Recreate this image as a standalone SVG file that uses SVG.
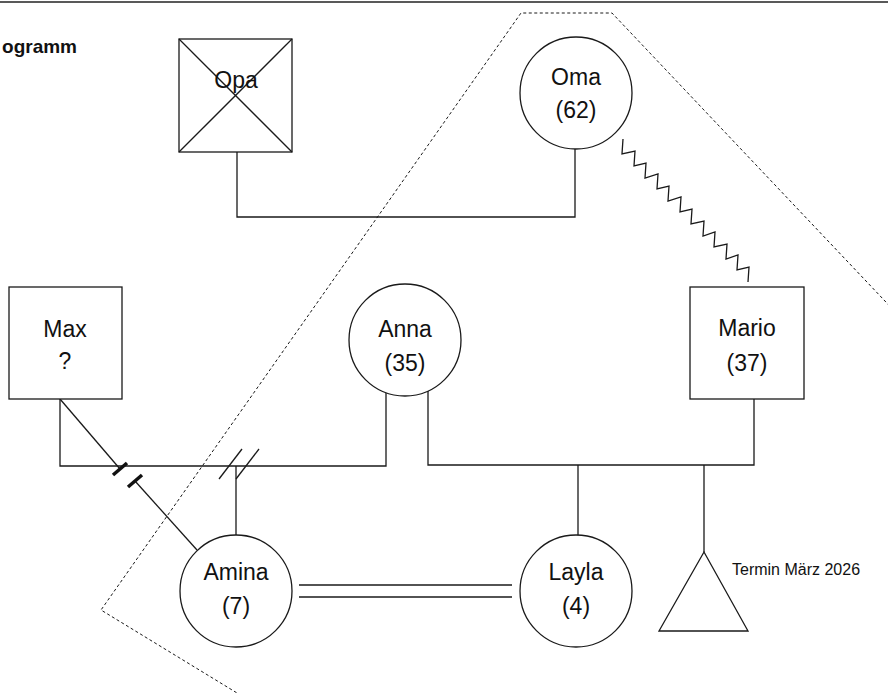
<svg xmlns="http://www.w3.org/2000/svg" width="888" height="693" viewBox="0 0 888 693">
<style>
.s{fill:#fff;stroke:#1a1a1a;stroke-width:1.3}
.l{fill:none;stroke:#1a1a1a;stroke-width:1.3}
.d{fill:none;stroke:#1a1a1a;stroke-width:1;stroke-dasharray:3 2.5}
.t{font-family:"Liberation Sans",Arial,sans-serif;font-size:23px;fill:#111;text-anchor:middle}
.sm{font-family:"Liberation Sans",Arial,sans-serif;font-size:16px;fill:#111}
.ti{font-family:"Liberation Sans",Arial,sans-serif;font-size:19px;font-weight:bold;fill:#111;text-anchor:end}
</style>
<rect width="888" height="693" fill="#fff"/>
<line x1="0" y1="2" x2="888" y2="2" stroke="#222" stroke-width="1.5"/>
<text class="ti" x="77" y="53">ogramm</text>
<polyline class="d" points="920,338 612,13 521,13 101,610 260,707"/>
<g id="connectors">
<polyline class="l" points="237,152 237,217 575,217 575,149"/>
<polyline class="l" points="623,139 622,154 635,151 634,166 646,163 645,178 658,174 657,189 669,186 668,201 681,197 680,212 692,209 691,224 704,221 703,236 715,232 714,247 727,244 726,259 738,255 737,270 749,267 748,282"/>
<polyline class="l" points="60,399 60,466 386,466 386,393"/>
<polyline class="l" points="428,391 428,465 754,465 754,399"/>
<line class="l" x1="236" y1="466" x2="236" y2="535"/>
<line class="l" x1="578" y1="465" x2="578" y2="535"/>
<line class="l" x1="704" y1="465" x2="704" y2="552"/>
<line class="l" x1="60" y1="399" x2="120" y2="469"/>
<line class="l" x1="135" y1="481" x2="197" y2="550"/>
<line x1="113" y1="475" x2="127" y2="463" stroke="#111" stroke-width="3.5"/>
<line x1="128" y1="487" x2="142" y2="475" stroke="#111" stroke-width="3.5"/>
<line class="l" x1="219" y1="479" x2="242" y2="449"/>
<line class="l" x1="236" y1="479" x2="259" y2="449"/>
<line class="l" x1="299" y1="585" x2="512" y2="585"/>
<line class="l" x1="299" y1="597" x2="512" y2="597"/>
</g>
<g id="opa">
<rect class="s" x="179" y="39" width="113" height="113"/>
<line class="l" x1="179" y1="39" x2="292" y2="152"/>
<line class="l" x1="292" y1="39" x2="179" y2="152"/>
<text class="t" x="236" y="88">Opa</text>
</g>
<g id="oma">
<circle class="s" cx="576" cy="93" r="56"/>
<text class="t" x="576" y="85">Oma</text>
<text class="t" x="576" y="118">(62)</text>
</g>
<g id="max">
<rect class="s" x="9" y="287" width="113" height="112"/>
<text class="t" x="65" y="337">Max</text>
<text class="t" x="65" y="369">?</text>
</g>
<g id="anna">
<circle class="s" cx="405" cy="340" r="56"/>
<text class="t" x="405" y="337">Anna</text>
<text class="t" x="405" y="371">(35)</text>
</g>
<g id="mario">
<rect class="s" x="690" y="287" width="114" height="112"/>
<text class="t" x="747" y="336">Mario</text>
<text class="t" x="747" y="371">(37)</text>
</g>
<g id="amina">
<circle class="s" cx="236" cy="591" r="56"/>
<text class="t" x="236" y="580">Amina</text>
<text class="t" x="236" y="614">(7)</text>
</g>
<g id="layla">
<circle class="s" cx="576" cy="591" r="56"/>
<text class="t" x="576" y="580">Layla</text>
<text class="t" x="576" y="614">(4)</text>
</g>
<g id="pregnancy">
<polygon class="s" points="704,552 659,631 748,631"/>
<text class="sm" x="732" y="575">Termin März 2026</text>
</g>
</svg>
